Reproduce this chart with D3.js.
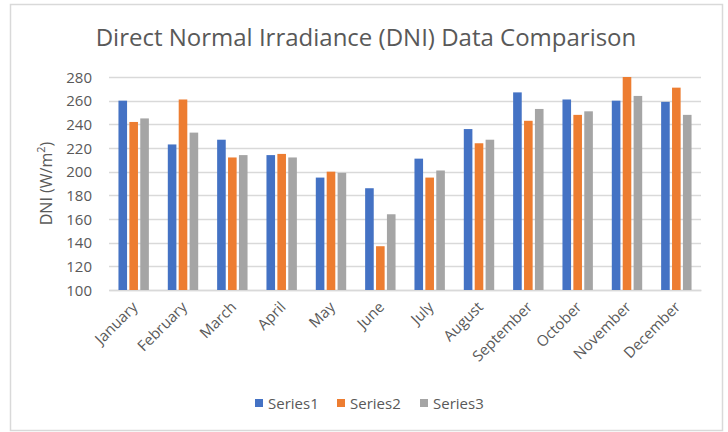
<!DOCTYPE html>
<html>
<head>
<meta charset="utf-8">
<script src="https://cdn.jsdelivr.net/npm/d3@7"></script>
<style>
  body { margin: 0; background: #fff; }
  text { font-family: "Open Sans", "Noto Sans", sans-serif; fill: #595959; }
</style>
</head>
<body>
<div id="chart"></div>
<script>
// Datos
// =====
var months = ["January", "February", "March", "April", "May", "June",
  "July", "August", "September", "October", "November", "December"];
var seriesNames = ["Series1", "Series2", "Series3"];
var series1 = [260, 223, 227, 214, 195, 186, 211, 236, 267, 261, 260, 259];
var series2 = [242, 261, 212, 215, 200, 137, 195, 224, 243, 248, 280, 271];
var series3 = [245, 233, 214, 212, 199, 164, 201, 227, 253, 251, 264, 248];
var yTicks = [100, 120, 140, 160, 180, 200, 220, 240, 260, 280];
var colors = ["#4472C4", "#ED7D31", "#A5A5A5"];

var allSeries = [series1, series2, series3];

// Dimensiones
// ===========
var W = 728, H = 432;
var margin = { top: 77, right: 27, bottom: 142, left: 109 },
  width = W - margin.left - margin.right,
  height = H - margin.top - margin.bottom;

var root = d3.select("#chart").append("svg")
  .attr("width", W)
  .attr("height", H);

// marco del grafico
root.append("rect")
  .attr("x", 10.5).attr("y", 4.5)
  .attr("width", 712).attr("height", 426)
  .attr("fill", "#fff")
  .attr("stroke", "#d9d9d9")
  .attr("stroke-width", 1.5);

// titulo
root.append("text")
  .attr("x", 366)
  .attr("y", 46)
  .attr("text-anchor", "middle")
  .style("font-size", "24px")
  .text("Direct Normal Irradiance (DNI) Data Comparison");

var svg = root.append("g")
  .attr("transform", "translate(" + margin.left + "," + margin.top + ")");

// Eje Y
// =====
var y = d3.scaleLinear()
  .domain([100, 280])
  .range([height, 0]);

svg.append("g")
  .selectAll("line")
  .data(yTicks)
  .enter().append("line")
  .attr("x1", 0).attr("x2", width)
  .attr("y1", function(d) { return Math.round(y(d)) + 0.5; })
  .attr("y2", function(d) { return Math.round(y(d)) + 0.5; })
  .attr("stroke", "#d9d9d9")
  .attr("stroke-width", 1.3);

var yAxis = svg.append("g")
  .call(d3.axisLeft(y).tickValues(yTicks).tickSize(0).tickPadding(17));
yAxis.select(".domain").remove();
yAxis.selectAll("text")
  .style("font-size", "15px")
  .attr("fill", "#595959")
  .attr("dy", "0.35em");

var yTitle = svg.append("text")
  .attr("text-anchor", "middle")
  .attr("transform", "translate(" + (-57) + "," + (height / 2) + ") rotate(-90)")
  .style("font-size", "16px");
yTitle.append("tspan").text("DNI (W/m");
yTitle.append("tspan").attr("dy", "-7").style("font-size", "11px").text("2");
yTitle.append("tspan").attr("dy", "7").text(")");

// Eje X
// =====
var x = d3.scaleBand()
  .domain(months)
  .range([0, width]);

var barW = 8.6, barStep = 10.9;

var xAxis = svg.append("g")
  .attr("transform", "translate(0," + height + ")")
  .call(d3.axisBottom(x).tickSize(0).tickPadding(0));
xAxis.select(".domain")
  .attr("stroke", "#d9d9d9")
  .attr("stroke-width", 1.3);
xAxis.selectAll("text")
  .style("font-size", "15px")
  .attr("fill", "#595959")
  .attr("text-anchor", "end")
  .attr("dy", "0")
  .attr("transform", "translate(5,18) rotate(-45)");

// Barras
// ======
allSeries.forEach(function(vals, s) {
  svg.append("g")
    .selectAll("rect")
    .data(vals)
    .enter().append("rect")
    .attr("x", function(d, i) {
      return x(months[i]) + x.bandwidth() / 2 + (s - 1) * barStep - barW / 2;
    })
    .attr("y", function(d) { return y(d); })
    .attr("width", barW)
    .attr("height", function(d) { return height - y(d); })
    .attr("fill", colors[s]);
});

// Leyenda
// =======
var legendX = [255, 337, 420];
var legend = root.append("g");
seriesNames.forEach(function(name, s) {
  legend.append("rect")
    .attr("x", legendX[s]).attr("y", 399)
    .attr("width", 8).attr("height", 8)
    .attr("fill", colors[s]);
  legend.append("text")
    .attr("x", legendX[s] + 13)
    .attr("y", 408.5)
    .style("font-size", "15px")
    .text(name);
});
</script>
</body>
</html>
